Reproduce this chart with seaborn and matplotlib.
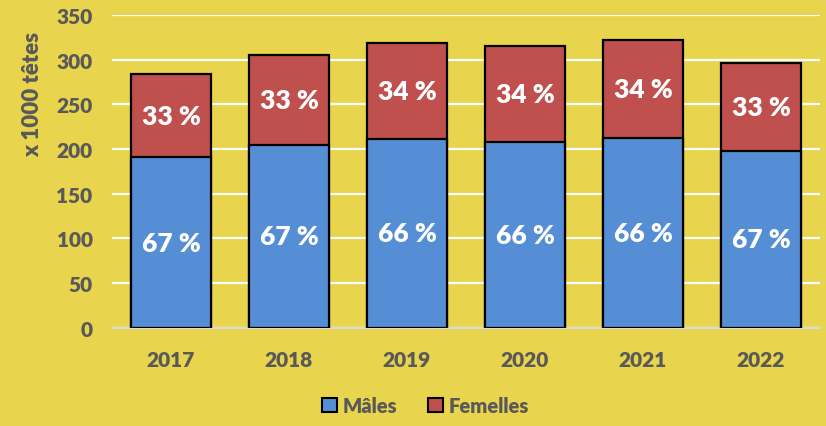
import matplotlib
matplotlib.use("Agg")
import matplotlib.pyplot as plt
from matplotlib.patches import Patch
import seaborn as sns
import pandas as pd

# data (x 1000 heads)
years = ["2017", "2018", "2019", "2020", "2021", "2022"]
males = [190.7, 204.8, 211.2, 208.2, 212.0, 198.1]
females = [93.3, 100.7, 107.1, 107.4, 110.0, 98.5]

bg = "#E8D44D"
blue = "#558ED5"
red = "#C0504D"
grey = "#595959"

df = pd.DataFrame({"year": years, "Mâles": males, "Femelles": females})
df["total"] = df["Mâles"] + df["Femelles"]

sns.set_style("white")
plt.rcParams["font.family"] = ["Lato", "DejaVu Sans"]
plt.rcParams["font.weight"] = "bold"

fig = plt.figure(figsize=(8.26, 4.27), dpi=100, facecolor=bg)
ax = fig.add_axes([0.1356, 0.2302, 0.8571, 0.7323])
ax.set_facecolor(bg)

sns.barplot(data=df, x="year", y="total", color=red, width=0.67,
            edgecolor="black", linewidth=1.6, saturation=1, ax=ax, zorder=3)
sns.barplot(data=df, x="year", y="Mâles", color=blue, width=0.67,
            edgecolor="black", linewidth=1.6, saturation=1, ax=ax, zorder=3)

for i, row in df.iterrows():
    pm = round(100 * row["Mâles"] / row["total"])
    pf = 100 - pm
    ax.text(i, row["Mâles"] / 2, f"{pm} %", ha="center", va="center",
            color="white", fontsize=19, fontweight="heavy", zorder=5)
    ax.text(i, row["Mâles"] + row["Femelles"] / 2, f"{pf} %", ha="center",
            va="center", color="white", fontsize=19, fontweight="heavy", zorder=5)

ax.set_ylim(0, 350)
ax.set_xlim(-0.5, 5.5)
ax.set_yticks(range(0, 351, 50))
ax.yaxis.grid(True, color="white", linewidth=1.6, zorder=0)
ax.set_axisbelow(True)
for s in ["top", "right", "left"]:
    ax.spines[s].set_visible(False)
ax.spines["bottom"].set_color("#D9D9D9")
ax.spines["bottom"].set_linewidth(1.5)
ax.tick_params(axis="y", length=0, labelsize=15, labelcolor=grey, pad=14)
ax.tick_params(axis="x", length=0, labelsize=15, labelcolor=grey, pad=16)
for lbl in ax.get_xticklabels() + ax.get_yticklabels():
    lbl.set_fontweight("heavy")
ax.set_xlabel("")
ax.set_ylabel("x 1000 têtes", fontsize=16, color=grey, fontweight="heavy")
ax.yaxis.set_label_coords(-0.097, 0.75)

handles = [Patch(facecolor=blue, edgecolor="black", linewidth=1.5, label="Mâles"),
           Patch(facecolor=red, edgecolor="black", linewidth=1.5, label="Femelles")]
leg = fig.legend(handles=handles, loc="center", bbox_to_anchor=(0.515, 0.048), ncol=2,
                 frameon=False, fontsize=14.5, handlelength=0.75, handleheight=0.75,
                 handletextpad=0.3, columnspacing=1.5)
for t in leg.get_texts():
    t.set_color(grey)
    t.set_fontweight("heavy")

fig.savefig("out.png", dpi=100, facecolor=bg)
